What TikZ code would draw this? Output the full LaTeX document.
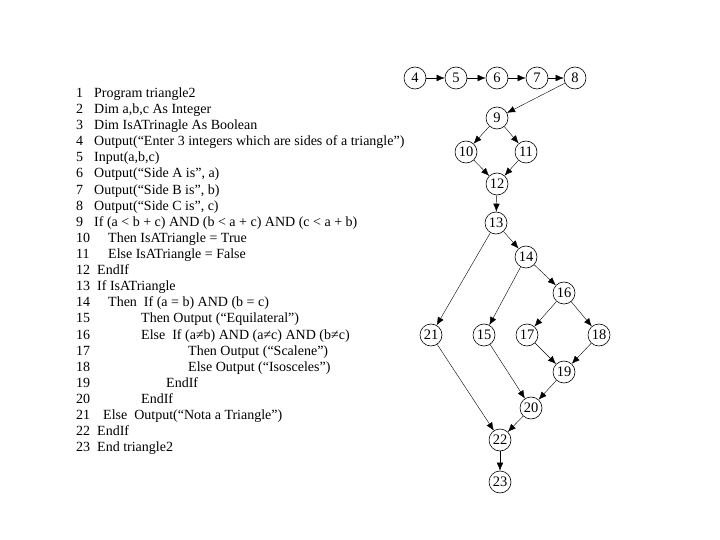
\documentclass[tikz,border=0pt]{standalone}
\usepackage{fontspec}
\setmainfont{Liberation Serif}
\usetikzlibrary{arrows.meta}

\tikzset{
    vtx/.style={draw, circle, semithick, minimum size=22pt, inner sep=0pt, font=\fontsize{14.5}{14.5}\selectfont},
    flow/.style={-{Latex[length=8pt,width=6.5pt]}, thin},
    lineno/.style={anchor=base west, inner sep=0pt, font=\fontsize{14}{16}\selectfont},
    code/.style={anchor=base west, inner sep=0pt, font=\fontsize{14}{16}\selectfont}
}

\begin{document}
\begin{tikzpicture}[x=1pt, y=-1pt]
    \useasboundingbox (0,0) rectangle (720,540);

    % Program listing
    \node[lineno] (n1)  at (76, 97.5)  {1};   \node[code] (c1)  at (94, 97.5)  {Program triangle2};
    \node[lineno] (n2)  at (76, 113.6) {2};   \node[code] (c2)  at (94, 113.6) {Dim a,b,c As Integer};
    \node[lineno] (n3)  at (76, 129.7) {3};   \node[code] (c3)  at (94, 129.7) {Dim IsATrinagle As Boolean};
    \node[lineno] (n4)  at (76, 145.8) {4};   \node[code] (c4)  at (94, 145.8) {Output(“Enter 3 integers which are sides of a triangle”)};
    \node[lineno] (n5)  at (76, 161.9) {5};   \node[code] (c5)  at (94, 161.9) {Input(a,b,c)};
    \node[lineno] (n6)  at (76, 178.0) {6};   \node[code] (c6)  at (94, 178.0) {Output(“Side A is”, a)};
    \node[lineno] (n7)  at (76, 194.1) {7};   \node[code] (c7)  at (94, 194.1) {Output(“Side B is”, b)};
    \node[lineno] (n8)  at (76, 210.2) {8};   \node[code] (c8)  at (94, 210.2) {Output(“Side C is”, c)};
    \node[lineno] (n9)  at (76, 226.3) {9};   \node[code] (c9)  at (94, 226.3) {If (a < b + c) AND (b < a + c) AND (c < a + b)};
    \node[lineno] (n10) at (76, 242.4) {10};  \node[code] (c10) at (108, 242.4) {Then IsATriangle = True};
    \node[lineno] (n11) at (76, 258.5) {11};  \node[code] (c11) at (108, 258.5) {Else IsATriangle = False};
    \node[lineno] (n12) at (76, 274.6) {12};  \node[code] (c12) at (97, 274.6)  {EndIf};
    \node[lineno] (n13) at (76, 290.7) {13};  \node[code] (c13) at (97, 290.7)  {If IsATriangle};
    \node[lineno] (n14) at (76, 306.8) {14};  \node[code] (c14) at (108, 306.8) {Then\ \ If (a = b) AND (b = c)};
    \node[lineno] (n15) at (76, 322.9) {15};  \node[code] (c15) at (141, 322.9) {Then Output (“Equilateral”)};
    \node[lineno] (n16) at (76, 339.0) {16};  \node[code] (c16) at (141, 339.0) {Else\ \ If (a≠b) AND (a≠c) AND (b≠c)};
    \node[lineno] (n17) at (76, 355.1) {17};  \node[code] (c17) at (188, 355.1) {Then Output (“Scalene”)};
    \node[lineno] (n18) at (76, 371.2) {18};  \node[code] (c18) at (188, 371.2) {Else Output (“Isosceles”)};
    \node[lineno] (n19) at (76, 387.3) {19};  \node[code] (c19) at (166, 387.3) {EndIf};
    \node[lineno] (n20) at (76, 403.4) {20};  \node[code] (c20) at (141, 403.4) {EndIf};
    \node[lineno] (n21) at (76, 419.5) {21};  \node[code] (c21) at (103, 419.5) {Else\ \ Output(“Nota a Triangle”)};
    \node[lineno] (n22) at (76, 435.6) {22};  \node[code] (c22) at (97, 435.6)  {EndIf};
    \node[lineno] (n23) at (76, 451.7) {23};  \node[code] (c23) at (97, 451.7)  {End triangle2};

    % Program graph
    \node[vtx] (v4)  at (415,78)  {4};
    \node[vtx] (v5)  at (456,78)  {5};
    \node[vtx] (v6)  at (497,78)  {6};
    \node[vtx] (v7)  at (537,78)  {7};
    \node[vtx] (v8)  at (575,78)  {8};
    \node[vtx] (v9)  at (497,118) {9};
    \node[vtx] (v10) at (466,152) {10};
    \node[vtx] (v11) at (526,152) {11};
    \node[vtx] (v12) at (497,184) {12};
    \node[vtx] (v13) at (496,223) {13};
    \node[vtx] (v14) at (526,257) {14};
    \node[vtx] (v16) at (564,293) {16};
    \node[vtx] (v21) at (431,335) {21};
    \node[vtx] (v15) at (484,335) {15};
    \node[vtx] (v17) at (527,335) {17};
    \node[vtx] (v18) at (599,335) {18};
    \node[vtx] (v19) at (564,372) {19};
    \node[vtx] (v20) at (531,408) {20};
    \node[vtx] (v22) at (500,440) {22};
    \node[vtx] (v23) at (500,482) {23};

    \foreach \a/\b in {v4/v5, v5/v6, v6/v7, v7/v8, v8/v9, v9/v10, v9/v11,
                       v10/v12, v11/v12, v12/v13, v13/v14, v13/v21, v14/v16,
                       v14/v15, v16/v17, v16/v18, v17/v19, v18/v19, v19/v20,
                       v15/v20, v21/v22, v20/v22, v22/v23}
        \draw[flow] (\a) -- (\b);
\end{tikzpicture}
\end{document}
